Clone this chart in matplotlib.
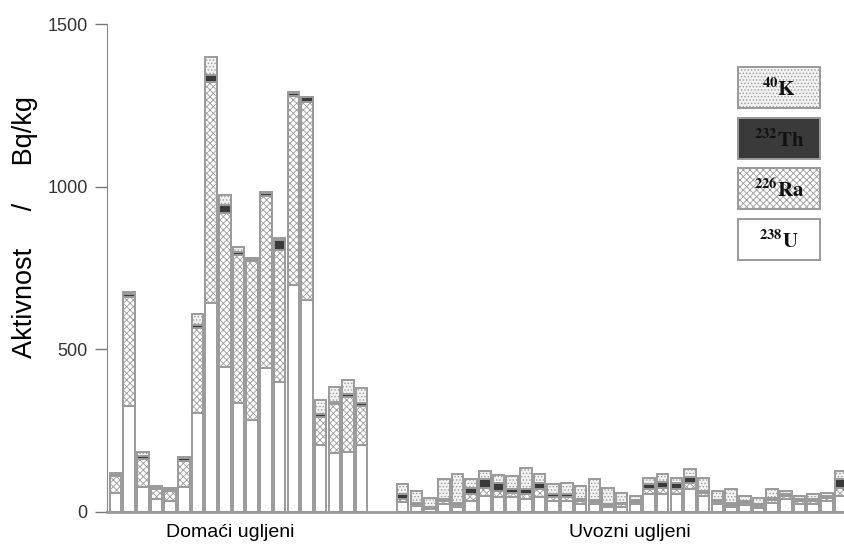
import matplotlib
matplotlib.use("Agg")
import matplotlib.pyplot as plt
from matplotlib.patches import Rectangle
import numpy as np

# domestic coals (Domaći ugljeni), Bq/kg
dom_U = [58, 325, 77, 40, 35, 77, 305, 642, 446, 335, 283, 443, 400, 698, 652, 206, 181, 184, 206]
dom_Ra = [52, 335, 87, 30, 30, 80, 260, 681, 473, 455, 488, 527, 405, 580, 609, 85, 150, 170, 120]
dom_Th = [6, 10, 8, 5, 4, 8, 10, 20, 25, 10, 8, 12, 32, 10, 15, 10, 8, 10, 8]
dom_K = [4, 5, 12, 5, 5, 5, 35, 56, 31, 15, 2, 3, 5, 3, 0, 43, 46, 42, 47]

# imported coals (Uvozni ugljeni), Bq/kg
imp_U = [30, 18, 8, 25, 15, 35, 50, 45, 45, 40, 45, 35, 35, 25, 25, 15,
         15, 25, 55, 55, 55, 70, 50, 25, 15, 20, 12, 28, 40, 25, 25, 35, 50]
imp_Ra = [10, 3, 3, 8, 6, 20, 24, 19, 13, 15, 25, 11, 11, 9, 6, 3,
          9, 7, 15, 19, 15, 19, 8, 6, 6, 9, 6, 9, 9, 9, 9, 8, 24]
imp_Th = [15, 6, 4, 7, 6, 19, 27, 25, 12, 15, 19, 9, 9, 6, 6, 6,
          4, 6, 16, 18, 19, 18, 5, 6, 6, 6, 6, 6, 6, 6, 6, 6, 27]
imp_K = [30, 38, 28, 61, 90, 27, 25, 25, 40, 65, 28, 31, 34, 40, 64, 50,
         30, 11, 18, 25, 15, 25, 41, 28, 44, 14, 19, 28, 10, 9, 15, 9, 25]

groups = ["Domaći ugljeni", "Uvozni ugljeni"]
legend_labels = [r"$\mathbf{^{40}K}$", r"$\mathbf{^{232}Th}$", r"$\mathbf{^{226}Ra}$", r"$\mathbf{^{238}U}$"]

plt.rcParams['font.family'] = ['Liberation Sans', 'DejaVu Sans']
plt.rcParams['hatch.linewidth'] = 0.6
plt.rcParams['mathtext.fontset'] = 'stix'

U = np.array(dom_U + imp_U)
Ra = np.array(dom_Ra + imp_Ra)
Th = np.array(dom_Th + imp_Th)
K = np.array(dom_K + imp_K)
x = np.concatenate([np.arange(len(dom_U)), np.arange(len(imp_U)) + len(dom_U) + 2])

edge = '#9a9a9a'
styles = {
    'U': dict(facecolor='white', hatch=None),
    'Ra': dict(facecolor='white', hatch='xxxxx'),
    'Th': dict(facecolor='#3a3a3a', hatch=None),
    'K': dict(facecolor='#f2f2f2', hatch='.....'),
}

fig = plt.figure(figsize=(8.44, 5.47), dpi=100)
ax = fig.add_axes([0.127, 0.064, 0.873, 0.892])

w = 0.84
bottom = np.zeros(len(x))
for name, vals in [('U', U), ('Ra', Ra), ('Th', Th), ('K', K)]:
    ax.bar(x, vals, w, bottom=bottom, edgecolor=edge, linewidth=1.4, **styles[name])
    bottom += vals

ax.set_xlim(-0.6, x[-1] + 0.25)
ax.set_ylim(0, 1500)
ax.set_yticks([0, 500, 1000, 1500])
ax.tick_params(axis='y', direction='out', length=9, width=1, color='#777777',
               labelsize=13, labelcolor='#333333', pad=5)
ax.set_xticks([])
for s in ['top', 'right']:
    ax.spines[s].set_visible(False)
ax.spines['left'].set_color('#888888')
ax.spines['bottom'].set_color('#999999')
ax.spines['bottom'].set_linewidth(2)
ax.set_ylabel("Aktivnost     /     Bq/kg", fontsize=19.5)
ax.yaxis.set_label_coords(-0.094, 0.585)

ax.text(0.167, -0.043, groups[0], transform=ax.transAxes, ha='center', va='center', fontsize=14)
ax.text(0.710, -0.043, groups[1], transform=ax.transAxes, ha='center', va='center', fontsize=14)

# legend boxes
for i, (name, lab) in enumerate(zip(['K', 'Th', 'Ra', 'U'], legend_labels)):
    y0 = 0.828 - i * 0.104
    r = Rectangle((0.856, y0), 0.111, 0.084, transform=ax.transAxes,
                  edgecolor=edge, linewidth=1.4, clip_on=False, **styles[name])
    ax.add_patch(r)
    ax.text(0.856 + 0.0555, y0 + 0.040, lab, transform=ax.transAxes, ha='center', va='center',
            fontsize=15, color='#111111')

fig.savefig("out.png", dpi=100)
